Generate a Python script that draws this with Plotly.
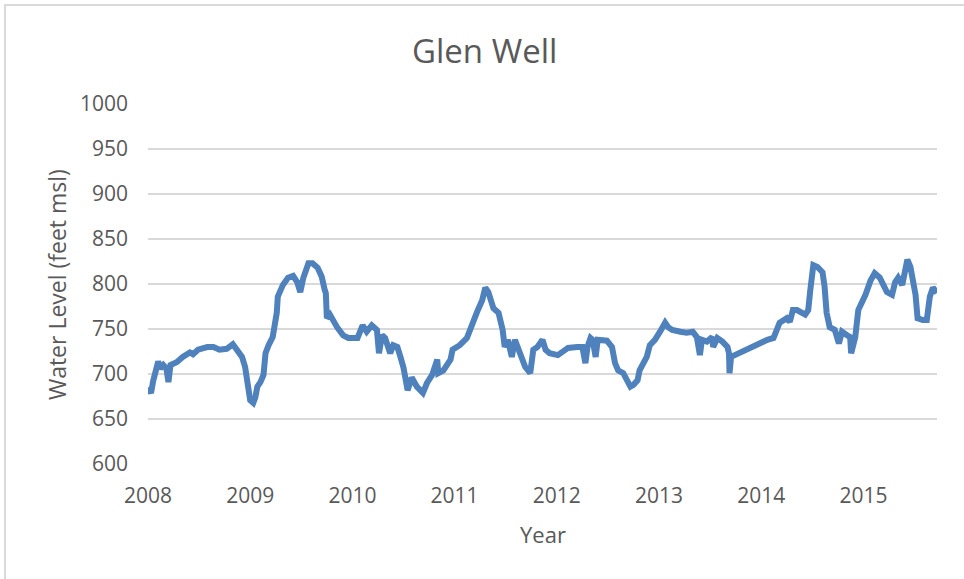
import plotly.graph_objects as go

# Glen Well water level record (decimal year, feet above mean sea level)
years = [
    2008.00, 2008.03, 2008.05, 2008.10, 2008.12, 2008.15, 2008.18, 2008.20, 2008.22, 2008.28,
    2008.34, 2008.41, 2008.44, 2008.49, 2008.58, 2008.64, 2008.70, 2008.77, 2008.83, 2008.87,
    2008.88, 2008.92, 2008.95, 2008.97, 2009.00, 2009.03, 2009.05, 2009.07, 2009.10, 2009.13,
    2009.15, 2009.18, 2009.22, 2009.26, 2009.27, 2009.32, 2009.37, 2009.42, 2009.46, 2009.49,
    2009.52, 2009.57, 2009.61, 2009.66, 2009.70, 2009.73, 2009.74, 2009.75, 2009.78, 2009.85,
    2009.91, 2009.96, 2010.05, 2010.10, 2010.14, 2010.19, 2010.24, 2010.26, 2010.29, 2010.32,
    2010.37, 2010.40, 2010.44, 2010.47, 2010.50, 2010.54, 2010.58, 2010.63, 2010.68, 2010.69,
    2010.73, 2010.78, 2010.83, 2010.84, 2010.89, 2010.96, 2010.98, 2011.05, 2011.12, 2011.17,
    2011.22, 2011.27, 2011.30, 2011.33, 2011.38, 2011.43, 2011.47, 2011.49, 2011.52, 2011.56,
    2011.59, 2011.64, 2011.69, 2011.74, 2011.77, 2011.81, 2011.86, 2011.89, 2011.93, 2012.01,
    2012.11, 2012.20, 2012.25, 2012.28, 2012.30, 2012.33, 2012.35, 2012.38, 2012.40, 2012.49,
    2012.54, 2012.57, 2012.60, 2012.65, 2012.69, 2012.72, 2012.75, 2012.79, 2012.81, 2012.88,
    2012.91, 2012.96, 2013.01, 2013.06, 2013.09, 2013.13, 2013.21, 2013.27, 2013.33, 2013.37,
    2013.40, 2013.42, 2013.47, 2013.52, 2013.53, 2013.57, 2013.62, 2013.67, 2013.685, 2013.69,
    2013.705, 2013.79, 2013.89, 2013.97, 2014.06, 2014.12, 2014.16, 2014.18, 2014.25, 2014.28,
    2014.31, 2014.35, 2014.43, 2014.46, 2014.48, 2014.51, 2014.55, 2014.60, 2014.62, 2014.64,
    2014.67, 2014.72, 2014.76, 2014.79, 2014.84, 2014.87, 2014.88, 2014.92, 2014.95, 2014.99,
    2015.02, 2015.07, 2015.11, 2015.16, 2015.23, 2015.28, 2015.31, 2015.34, 2015.38, 2015.43,
    2015.46, 2015.51, 2015.53, 2015.58, 2015.62, 2015.65, 2015.68, 2015.72,
]
levels = [
    685, 679, 692, 714, 706, 710, 706, 691, 710, 713,
    719, 724, 722, 727, 730, 730, 727, 728, 733, 727,
    723, 719, 708, 690, 671, 668, 674, 686, 691, 699,
    723, 732, 741, 768, 786, 799, 807, 809, 802, 791,
    807, 823, 823, 818, 808, 793, 790, 762, 766, 752,
    743, 740, 740, 754, 747, 754, 749, 723, 743, 740,
    723, 732, 730, 719, 707, 682, 696, 686, 679, 679,
    690, 699, 716, 701, 704, 716, 727, 732, 740, 757,
    769, 782, 796, 791, 773, 768, 749, 730, 738, 719,
    738, 723, 708, 701, 727, 730, 738, 727, 723, 721,
    729, 730, 730, 712, 730, 740, 738, 719, 738, 737,
    730, 712, 704, 701, 690, 686, 688, 693, 704, 719,
    732, 738, 747, 757, 752, 749, 747, 746, 747, 741,
    721, 738, 736, 741, 730, 740, 736, 730, 723, 701,
    719, 724, 729, 734, 738, 740, 749, 757, 762, 758,
    771, 771, 766, 771, 793, 821, 819, 813, 797, 768,
    752, 749, 734, 747, 743, 741, 723, 741, 771, 780,
    788, 804, 812, 807, 791, 788, 802, 807, 799, 827,
    819, 788, 762, 760, 760, 786, 796, 790,
]

x_ticks = [2008, 2009, 2010, 2011, 2012, 2013, 2014, 2015]
y_ticks = [600, 650, 700, 750, 800, 850, 900, 950, 1000]

TEXT = "#595959"
GRID = "#d9d9d9"
FONT = "Open Sans"

fig = go.Figure()
fig.add_trace(go.Scatter(
    x=years, y=levels, mode="lines",
    line=dict(color="rgb(79,129,189)", width=6),
    hoverinfo="skip", showlegend=False,
))

fig.update_layout(
    width=964, height=579,
    margin=dict(l=148, r=27, t=104, b=115),
    paper_bgcolor="white", plot_bgcolor="white",
    font=dict(family=FONT, color=TEXT),
    xaxis=dict(
        range=[2008, 2015.72], tickvals=x_ticks, ticktext=[str(v) for v in x_ticks],
        showgrid=False, zeroline=False, showline=False, ticks="",
        ticklabelstandoff=17,
        tickfont=dict(size=21, color=TEXT, family=FONT),
    ),
    yaxis=dict(
        range=[600, 1000], tickvals=y_ticks,
        showgrid=True, gridcolor=GRID, gridwidth=1.5,
        zeroline=False, showline=False, ticks="",
        ticklabelstandoff=19,
        tickfont=dict(size=21, color=TEXT, family=FONT),
    ),
    annotations=[
        dict(text="Glen Well", x=0.427, y=1.15, xref="paper", yref="paper",
             xanchor="center", yanchor="middle", showarrow=False,
             font=dict(size=33, color=TEXT, family=FONT)),
        dict(text="Year", x=0.5006, y=-0.194, xref="paper", yref="paper",
             xanchor="center", yanchor="middle", showarrow=False,
             font=dict(size=22, color=TEXT, family=FONT)),
        dict(text="Water Level (feet msl)", x=-0.1153, y=0.497, xref="paper", yref="paper",
             xanchor="center", yanchor="middle", showarrow=False, textangle=-90,
             font=dict(size=23, color=TEXT, family=FONT)),
    ],
    shapes=[
        dict(type="rect", xref="paper", yref="paper",
             x0=-0.1812, x1=1.2, y0=-0.5, y1=1.275,
             line=dict(color=GRID, width=2), fillcolor="rgba(0,0,0,0)", layer="below"),
    ],
)

fig.write_html("out.html")
